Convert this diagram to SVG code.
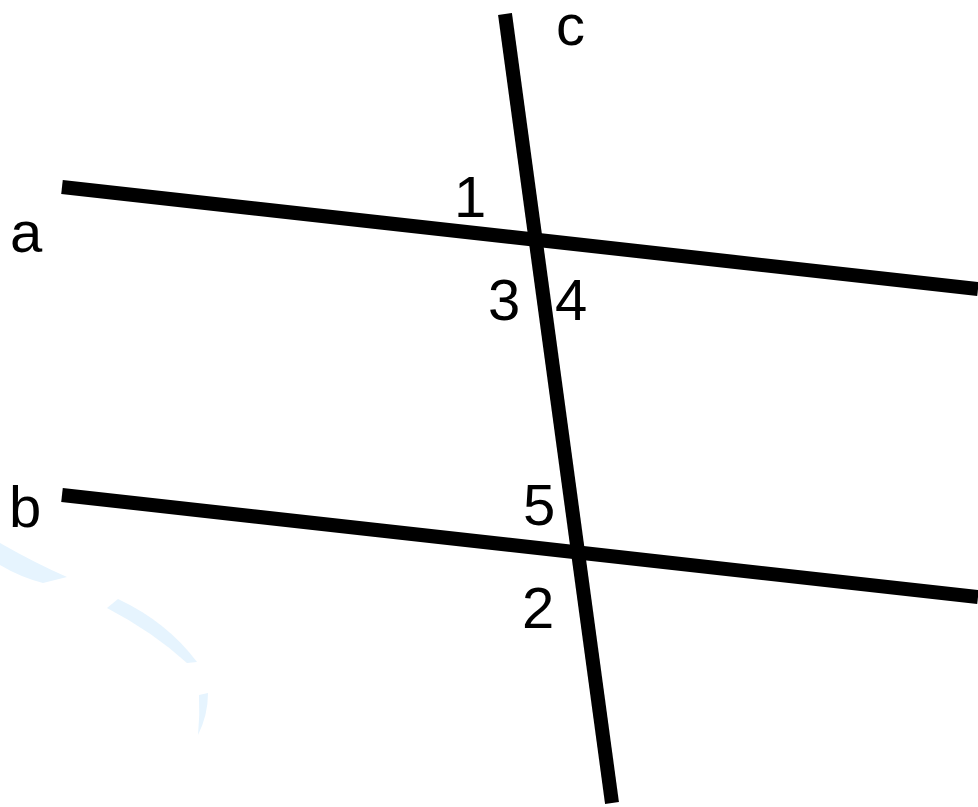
<svg xmlns="http://www.w3.org/2000/svg" width="978" height="807" viewBox="0 0 978 807">
<style>
.ln{stroke:#000;stroke-width:14;fill:none;stroke-linecap:butt}
.lb{font-family:"Liberation Sans",Arial,sans-serif;font-size:58px;fill:#000}
.wm{fill:#e6f4fe;stroke:none}
</style>
<rect width="978" height="807" fill="#fff"/>
<g id="watermark">
<path class="wm" d="M0,543 Q35,563 67,577 L43,583 Q20,577 0,565 Z"/>
<path class="wm" d="M118,599 Q167,622 197,662 L187,663 Q153,632 107,608 Z"/>
<path class="wm" d="M199,695 L208,693 Q208,715 198,735 Q200,715 199,695 Z"/>
</g>
<g id="lines">
<line id="line-a" class="ln" x1="62" y1="187" x2="978" y2="289"/>
<line id="line-b" class="ln" x1="62" y1="495" x2="978" y2="597"/>
<line id="line-c" class="ln" x1="505" y1="14" x2="612" y2="803"/>
</g>
<g id="labels">
<text class="lb" x="10" y="252">a</text>
<text class="lb" x="9" y="527">b</text>
<text class="lb" x="556" y="45">c</text>
<text class="lb" x="454" y="217">1</text>
<text class="lb" x="488" y="320">3</text>
<text class="lb" x="555" y="320">4</text>
<text class="lb" x="523" y="525">5</text>
<text class="lb" x="522" y="628">2</text>
</g>
</svg>
